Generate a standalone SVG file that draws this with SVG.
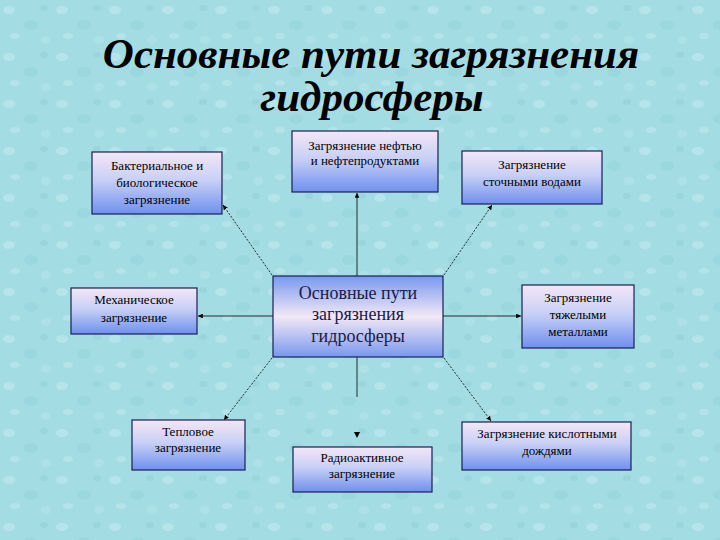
<svg xmlns="http://www.w3.org/2000/svg" width="720" height="540" viewBox="0 0 720 540">
<defs>
<linearGradient id="g" x1="0" y1="0" x2="0" y2="1">
<stop offset="0" stop-color="#f4e6f6"/>
<stop offset="0.45" stop-color="#c8d0f6"/>
<stop offset="1" stop-color="#6f90ee"/>
</linearGradient>
<linearGradient id="gc" x1="0" y1="0" x2="0" y2="1">
<stop offset="0" stop-color="#7898ee"/>
<stop offset="0.5" stop-color="#f2e8f6"/>
<stop offset="1" stop-color="#7898ee"/>
</linearGradient>
<pattern id="tex" width="53" height="47" patternUnits="userSpaceOnUse">
<rect width="53" height="47" fill="#a4dce3"/>
<ellipse cx="9" cy="10" rx="6" ry="4" fill="#bfe9ee" opacity="0.6"/>
<ellipse cx="31" cy="25" rx="7" ry="5" fill="#92d1da" opacity="0.5"/>
<ellipse cx="15" cy="36" rx="5" ry="3" fill="#c3ebef" opacity="0.5"/>
<ellipse cx="44" cy="8" rx="4" ry="3" fill="#8fcdd7" opacity="0.5"/>
<ellipse cx="46" cy="40" rx="5" ry="4" fill="#b8e6ec" opacity="0.5"/>
</pattern>
<marker id="ar" viewBox="0 0 10 10" refX="10" refY="5" markerWidth="6" markerHeight="6" orient="auto-start-reverse">
<path d="M0,0 L10,5 L0,10 z" fill="#000"/>
</marker>
<style>
.box{fill:url(#g);stroke:#1a2050;stroke-width:1.2}
.t{font-family:"Liberation Serif","Times New Roman",serif;font-size:13px;fill:#000;text-anchor:middle}
.c{font-family:"Liberation Serif","Times New Roman",serif;font-size:18px;fill:#1a1a48;text-anchor:middle}
.ln{stroke:#000;stroke-width:0.8;fill:none}
.dl{stroke:#000;stroke-width:0.8;fill:none;stroke-dasharray:2,1.5}
.title{font-family:"Liberation Serif","Times New Roman",serif;font-weight:bold;font-style:italic;font-size:43px;fill:#000;text-anchor:middle}
</style>
</defs>
<rect width="720" height="540" fill="url(#tex)"/>
<g id="title">
<text class="title" x="371" y="68">Основные пути загрязнения</text>
<text class="title" x="372" y="111">гидросферы</text>
</g>
<g id="connectors">
<line class="ln" x1="357" y1="276" x2="357" y2="193" marker-end="url(#ar)"/>
<line class="dl" x1="272" y1="275" x2="223" y2="205" marker-end="url(#ar)"/>
<line class="dl" x1="444" y1="275" x2="492" y2="205" marker-end="url(#ar)"/>
<line class="ln" x1="273" y1="316" x2="198" y2="316" marker-end="url(#ar)"/>
<line class="ln" x1="443" y1="316" x2="521" y2="316" marker-end="url(#ar)"/>
<line class="dl" x1="272" y1="358" x2="224" y2="420" marker-end="url(#ar)"/>
<line class="dl" x1="444" y1="358" x2="491" y2="421" marker-end="url(#ar)"/>
<line class="ln" x1="357" y1="357" x2="357" y2="397"/>
<path d="M354,432 L360,432 L357,438 z" fill="#000"/>
</g>
<g id="center">
<rect x="273" y="276" width="170" height="81" fill="url(#gc)" stroke="#1a2050" stroke-width="1.2"/>
<text class="c" x="358" y="299">Основные пути</text>
<text class="c" x="358" y="320">загрязнения</text>
<text class="c" x="358" y="342">гидросферы</text>
</g>
<g id="bio">
<rect class="box" x="92" y="152" width="130" height="62"/>
<text class="t" x="157" y="170">Бактериальное и</text>
<text class="t" x="157" y="187">биологическое</text>
<text class="t" x="157" y="204">загрязнение</text>
</g>
<g id="oil">
<rect class="box" x="292" y="131" width="146" height="61"/>
<text class="t" x="365" y="150">Загрязнение нефтью</text>
<text class="t" x="365" y="165">и нефтепродуктами</text>
</g>
<g id="sewage">
<rect class="box" x="462" y="151" width="140" height="53"/>
<text class="t" x="532" y="169">Загрязнение</text>
<text class="t" x="532" y="186">сточными водами</text>
</g>
<g id="mech">
<rect class="box" x="71" y="288" width="126" height="46"/>
<text class="t" x="134" y="304">Механическое</text>
<text class="t" x="134" y="322">загрязнение</text>
</g>
<g id="metals">
<rect class="box" x="522" y="285" width="112" height="63"/>
<text class="t" x="578" y="302">Загрязнение</text>
<text class="t" x="578" y="319">тяжелыми</text>
<text class="t" x="578" y="336">металлами</text>
</g>
<g id="thermal">
<rect class="box" x="132" y="420" width="113" height="50"/>
<text class="t" x="188" y="436">Тепловое</text>
<text class="t" x="188" y="452">загрязнение</text>
</g>
<g id="radio">
<rect class="box" x="293" y="447" width="139" height="45"/>
<text class="t" x="362" y="462">Радиоактивное</text>
<text class="t" x="362" y="478">загрязнение</text>
</g>
<g id="acid">
<rect class="box" x="462" y="422" width="169" height="48"/>
<text class="t" x="547" y="438">Загрязнение кислотными</text>
<text class="t" x="547" y="455">дождями</text>
</g>
</svg>
